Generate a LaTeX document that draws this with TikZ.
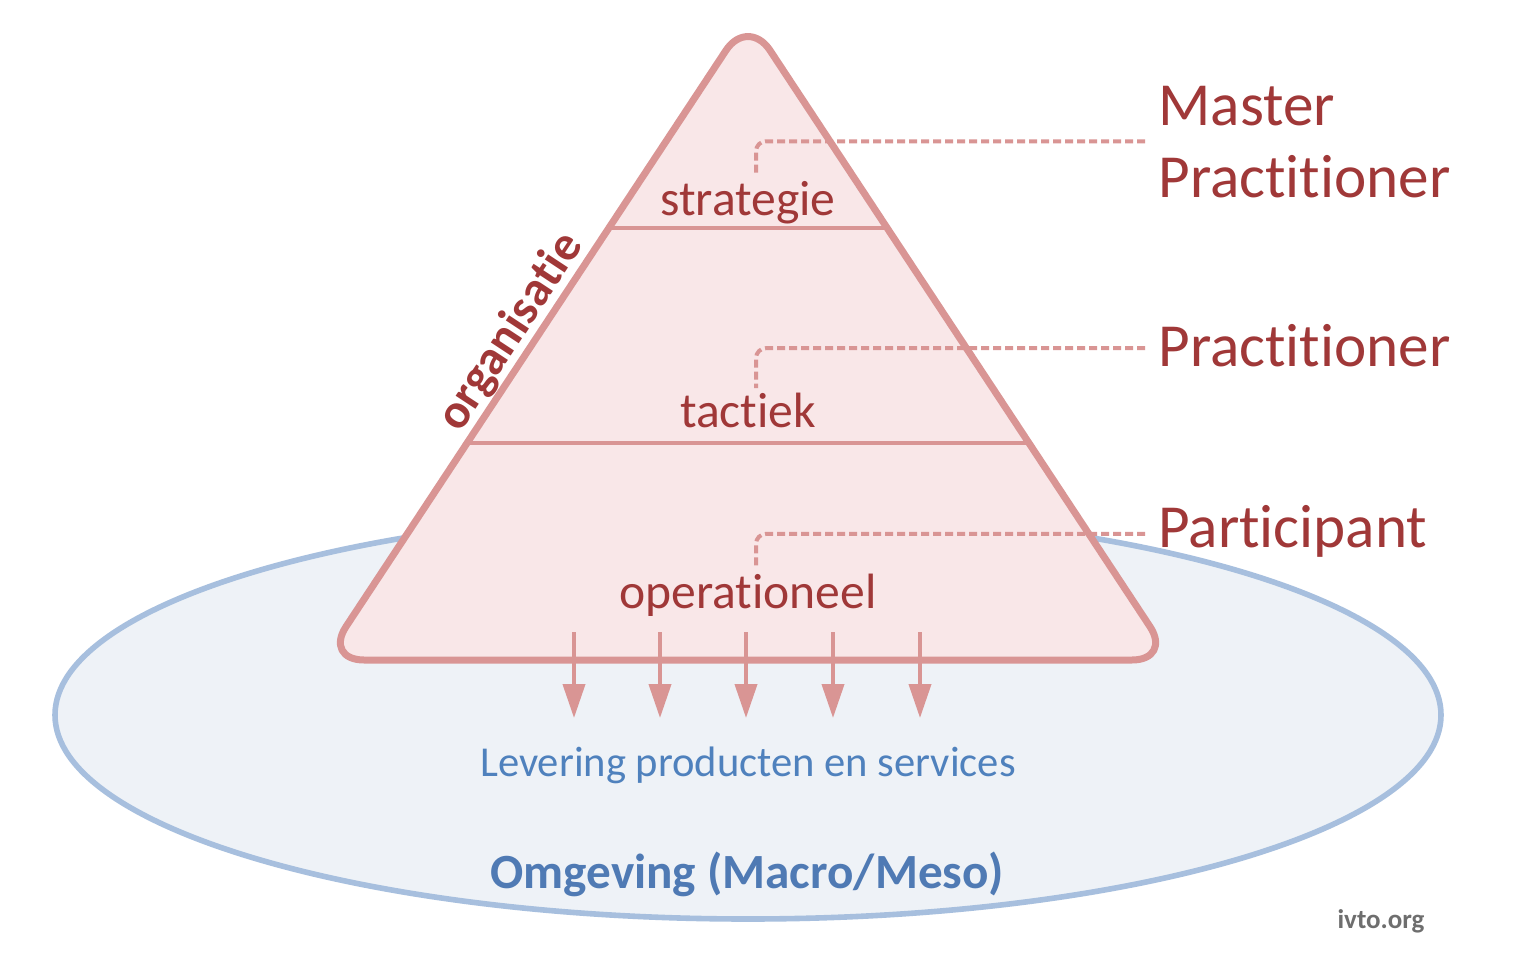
\documentclass[tikz,border=0pt]{standalone}
\usepackage{fontspec}
\setmainfont{Carlito}[Ligatures={NoCommon,NoRare,NoContextual}]
\usetikzlibrary{arrows.meta,shapes.geometric}
\definecolor{pyrfill}{RGB}{249,231,232}
\definecolor{pyrline}{RGB}{217,149,148}
\definecolor{darkred}{RGB}{160,56,56}
\definecolor{envfill}{RGB}{238,242,247}
\definecolor{envline}{RGB}{167,191,222}
\definecolor{bluetext}{RGB}{79,129,189}
\definecolor{bluebold}{RGB}{79,122,180}
\definecolor{graytext}{RGB}{110,110,110}
\begin{document}
\begin{tikzpicture}[x=0.5pt,y=-0.5pt,
  pyr/.style={fill=pyrfill,draw=pyrline,line width=3.5pt,rounded corners=20pt,line join=round},
  divider/.style={draw=pyrline,line width=2pt},
  lvl/.style={font=\fontsize{24.8}{28}\selectfont,text=darkred,inner sep=0pt,anchor=base},
  role/.style={font=\fontsize{30.6}{36}\selectfont,text=darkred,inner sep=0pt},
  conn/.style={draw=pyrline,line width=2pt,dash pattern=on 4pt off 2pt,rounded corners=5pt,shorten <=6.5pt,shorten >=2pt},
  deliv/.style={draw=pyrline,line width=2pt,-{Triangle[width=11pt,length=17pt]}}]
\useasboundingbox (0,0) rectangle (1516,963);
\fill[white] (0,0) rectangle (1516,963);
% environment
\node[ellipse,draw=envline,fill=envfill,line width=2.8pt,minimum width=693pt,minimum height=204pt,inner sep=0pt] (env) at (748,715) {};
% pyramid
\draw[pyr] (748,660) -- (1172,660) -- (748,17) -- (324,660) -- cycle;
\draw[divider] (609,228) -- (887,228);
\draw[divider] (467,443) -- (1029,443);
% level labels
\node[lvl] (strat) at (748,215) {strategie};
\node[lvl] (tact) at (748,427) {tactiek};
\node[lvl] (oper) at (748,608) {operationeel};
\node[rotate=56.6,anchor=south,font=\bfseries\fontsize{24.5}{28}\selectfont,text=darkred,inner sep=1pt] (org) at (531,345) {organisatie};
% roles
\node[role,anchor=north west,align=left] (mp) at (1158,86) {Master\\Practitioner};
\node[role,anchor=base west] (pr) at (1158,366) {Practitioner};
\node[role,anchor=base west] (pa) at (1158,547) {Participant};
\draw[conn] ([yshift=0.5pt]mp.west) -| ([xshift=4pt]strat.north);
\draw[conn] ([yshift=-1.5pt]pr.west) -| ([xshift=4pt]tact.north);
\draw[conn] ([yshift=-1.5pt]pa.west) -| ([xshift=4pt]oper.north);
% delivery arrows
\foreach \i/\x in {1/574,2/660,3/746,4/833,5/920}{
  \coordinate (s\i) at (\x,632);
  \coordinate (e\i) at (\x,718);
  \draw[deliv] (s\i) -- (e\i);
}
\node[font=\fontsize{21.3}{25}\selectfont,text=bluetext,anchor=base,inner sep=0pt] (lev) at (748,776) {Levering producten en services};
\node[font=\bfseries\fontsize{24.6}{28}\selectfont,text=bluebold,anchor=base,inner sep=0pt] (omg) at (747,888) {Omgeving (Macro/Meso)};
\node[font=\bfseries\fontsize{13.5}{16}\selectfont,text=graytext,anchor=base,inner sep=0pt] (ivto) at (1381,928) {ivto.org};
\end{tikzpicture}
\end{document}
